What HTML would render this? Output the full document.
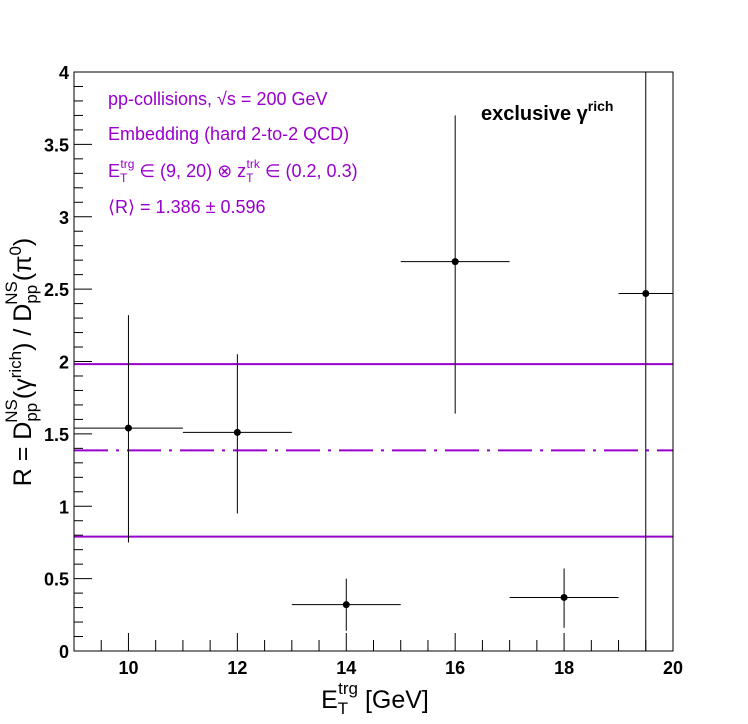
<!DOCTYPE html>
<html><head><meta charset="utf-8"><style>
body{margin:0;background:#fff;}
svg{display:block;font-family:"Liberation Sans",sans-serif;}
</style></head><body>
<svg id="chart" width="748" height="724" viewBox="0 0 748 724" xmlns="http://www.w3.org/2000/svg">
<rect x="0" y="0" width="748" height="724" fill="#fff"/>
<g id="ticks"></g>
<g id="marks"></g>
<rect x="74" y="72" width="599" height="579" fill="none" stroke="#000" stroke-width="1"/>
<g fill="#9900cc" font-size="18">
<text x="108" y="105">pp-collisions, √s = 200 GeV</text>
<text x="108" y="140">Embedding (hard 2-to-2 QCD)</text>
<text x="108" y="177">E<tspan font-size="12" dy="5">T</tspan><tspan font-size="12" dx="-7" dy="-14">trg</tspan><tspan dy="9"> ∈ (9, 20) ⊗ z</tspan><tspan font-size="12" dy="5">T</tspan><tspan font-size="12" dx="-7" dy="-14">trk</tspan><tspan dy="9"> ∈ (0.2, 0.3)</tspan></text>
<text x="108" y="213">⟨R⟩ = 1.386 ± 0.596</text>
</g>
<text x="481" y="120" font-size="20" font-weight="bold">exclusive γ<tspan font-size="14" dy="-9">rich</tspan></text>
<text x="375" y="708" font-size="25" text-anchor="middle">E<tspan font-size="17" dy="6">T</tspan><tspan font-size="17" dx="-10" dy="-20">trg</tspan><tspan dy="14"> [GeV]</tspan></text>
<text transform="translate(31,362) rotate(-90)" font-size="25" text-anchor="middle">R = D<tspan font-size="17" dy="6">pp</tspan><tspan font-size="17" dx="-20" dy="-20">NS</tspan><tspan dy="14">(γ</tspan><tspan font-size="17" dy="-10">rich</tspan><tspan dy="10">) / D</tspan><tspan font-size="17" dy="6">pp</tspan><tspan font-size="17" dx="-20" dy="-20">NS</tspan><tspan dy="14">(π</tspan><tspan font-size="17" dy="-10">0</tspan><tspan dy="10">)</tspan></text>
</svg>
<script>
const xCenters=[10,12,14,16,18,19.5];
const xLow=[9,11,13,15,17,19];
const xHigh=[11,13,15,17,19,20];
const yValues=[1.54,1.51,0.32,2.69,0.37,2.47];
const yErrLow=[0.79,0.56,0.18,1.05,0.21,2.47];
const yErrHigh=[0.78,0.54,0.18,1.01,0.20,2.0];
const meanR=1.386, sigmaR=0.596;
const xTickLabels=[10,12,14,16,18,20];
const yTickLabels=["0","0.5","1","1.5","2","2.5","3","3.5","4"];
const X0=74,X1=673,Y0=651,Y1=72;
const sx=v=>X0+(v-9)/(20-9)*(X1-X0);
const sy=v=>Y0-(v-0)/4*(Y0-Y1);
const NS="http://www.w3.org/2000/svg";
function mk(t,a,p){const e=document.createElementNS(NS,t);for(const k in a)e.setAttribute(k,a[k]);p.appendChild(e);return e;}
const tg=document.getElementById('ticks');
for(let v=9.5;v<20;v+=0.5){const major=Math.abs(v/2-Math.round(v/2))<1e-6;
 const l=mk('line',{x1:sx(v),x2:sx(v),y1:Y0,y2:Y0-(major?18:11),stroke:'#000'},tg);
 
 }
xTickLabels.forEach(v=>{const t=mk('text',{x:sx(v),y:Y0+23,'font-size':18,'font-weight':'bold','text-anchor':'middle'},tg);t.textContent=v;
 
 });
for(let i=1;i<40;i++){const v=i/10;const major=i%5===0;
 const l=mk('line',{x1:X0,x2:X0+(major?18:9),y1:sy(v),y2:sy(v),stroke:'#000'},tg);
 
 }
yTickLabels.forEach((s,i)=>{const t=mk('text',{x:X0-5,y:sy(i*0.5)+7,'font-size':18,'font-weight':'bold','text-anchor':'end'},tg);t.textContent=s;
 
 });
const mg=document.getElementById('marks');
[[meanR+sigmaR,'none','upper-band-line'],[meanR-sigmaR,'none','lower-band-line'],[meanR,'34 8 3 8','mean-line']].forEach(([v,d,n])=>{
 const l=mk('line',{x1:X0,x2:X1,y1:sy(v),y2:sy(v),stroke:'#9900cc','stroke-width':2,'stroke-dasharray':d},mg);
 
 });
xCenters.forEach((x,i)=>{
 const h=mk('line',{x1:sx(xLow[i]),x2:sx(xHigh[i]),y1:sy(yValues[i]),y2:sy(yValues[i]),stroke:'#000'},mg);
 
 
 const top=Math.max(sy(yValues[i]+yErrHigh[i]),Y1),bot=Math.min(sy(yValues[i]-yErrLow[i]),Y0);
 const v=mk('line',{x1:sx(x),x2:sx(x),y1:top,y2:bot,stroke:'#000'},mg);
 
 
 const c=mk('circle',{cx:sx(x),cy:sy(yValues[i]),r:3.5,fill:'#000'},mg);
 
 
});
</script>
</body></html>
